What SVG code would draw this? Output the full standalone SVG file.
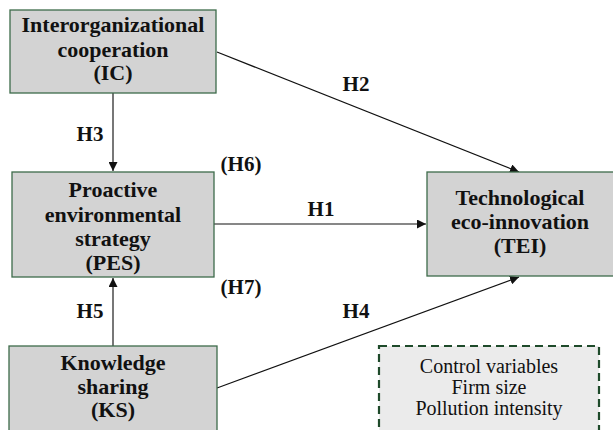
<svg xmlns="http://www.w3.org/2000/svg" width="613" height="430" viewBox="0 0 613 430">
<style>
.box{fill:#d3d3d3;stroke:#3d6b4a;stroke-width:1.3}
.ctrl{fill:#ebebeb;stroke:#1e4a2a;stroke-width:2.2;stroke-dasharray:8,5}
text{font-family:'Liberation Serif','Times New Roman',serif;fill:#111}
.t{font-weight:bold;font-size:22px;text-anchor:middle}
.lab{font-weight:bold;font-size:21px;text-anchor:middle}
.c{font-size:20px;text-anchor:middle}
.ln{fill:none;stroke:#111;stroke-width:1.2}
.lg{fill:none;stroke:#555;stroke-width:1.6}
</style>
<defs>
<marker id="ah" viewBox="0 0 10 10" refX="10" refY="5" markerWidth="9" markerHeight="9" markerUnits="userSpaceOnUse" orient="auto">
<path d="M0,0 L10,5 L0,10 z" fill="#111"/>
</marker>
</defs>
<rect width="613" height="430" fill="#fff"/>
<g id="connectors">
<line class="lg" x1="113" y1="93" x2="113" y2="171" marker-end="url(#ah)"/>
<line class="lg" x1="113" y1="346" x2="113" y2="278" marker-end="url(#ah)"/>
<line class="ln" x1="214" y1="224" x2="426" y2="224" marker-end="url(#ah)"/>
<line class="ln" x1="217" y1="52" x2="519" y2="172" marker-end="url(#ah)"/>
<line class="ln" x1="217" y1="388" x2="519" y2="277" marker-end="url(#ah)"/>
<text class="lab" x="356" y="91">H2</text>
<text class="lab" x="90" y="141">H3</text>
<text class="lab" x="241" y="171">(H6)</text>
<text class="lab" x="321" y="216">H1</text>
<text class="lab" x="241" y="294">(H7)</text>
<text class="lab" x="356" y="318">H4</text>
<text class="lab" x="90" y="318">H5</text>
</g>
<g id="IC">
<rect class="box" x="10" y="10" width="206" height="83"/>
<text class="t" x="113" y="32">Interorganizational</text>
<text class="t" x="113" y="57">cooperation</text>
<text class="t" x="113" y="80">(IC)</text>
</g>
<g id="PES">
<rect class="box" x="12" y="172" width="202" height="105"/>
<text class="t" x="113" y="197">Proactive</text>
<text class="t" x="113" y="222">environmental</text>
<text class="t" x="113" y="246">strategy</text>
<text class="t" x="113" y="270">(PES)</text>
</g>
<g id="KS">
<rect class="box" x="9" y="346" width="208" height="100"/>
<text class="t" x="113" y="370">Knowledge</text>
<text class="t" x="113" y="394">sharing</text>
<text class="t" x="113" y="417">(KS)</text>
</g>
<g id="TEI">
<rect class="box" x="427" y="172" width="195" height="104"/>
<text class="t" x="520" y="205">Technological</text>
<text class="t" x="520" y="229">eco-innovation</text>
<text class="t" x="520" y="253">(TEI)</text>
</g>
<g id="controls">
<rect class="ctrl" x="379" y="346" width="220" height="100"/>
<text class="c" x="489" y="373">Control variables</text>
<text class="c" x="489" y="394">Firm size</text>
<text class="c" x="489" y="415">Pollution intensity</text>
</g>
</svg>
